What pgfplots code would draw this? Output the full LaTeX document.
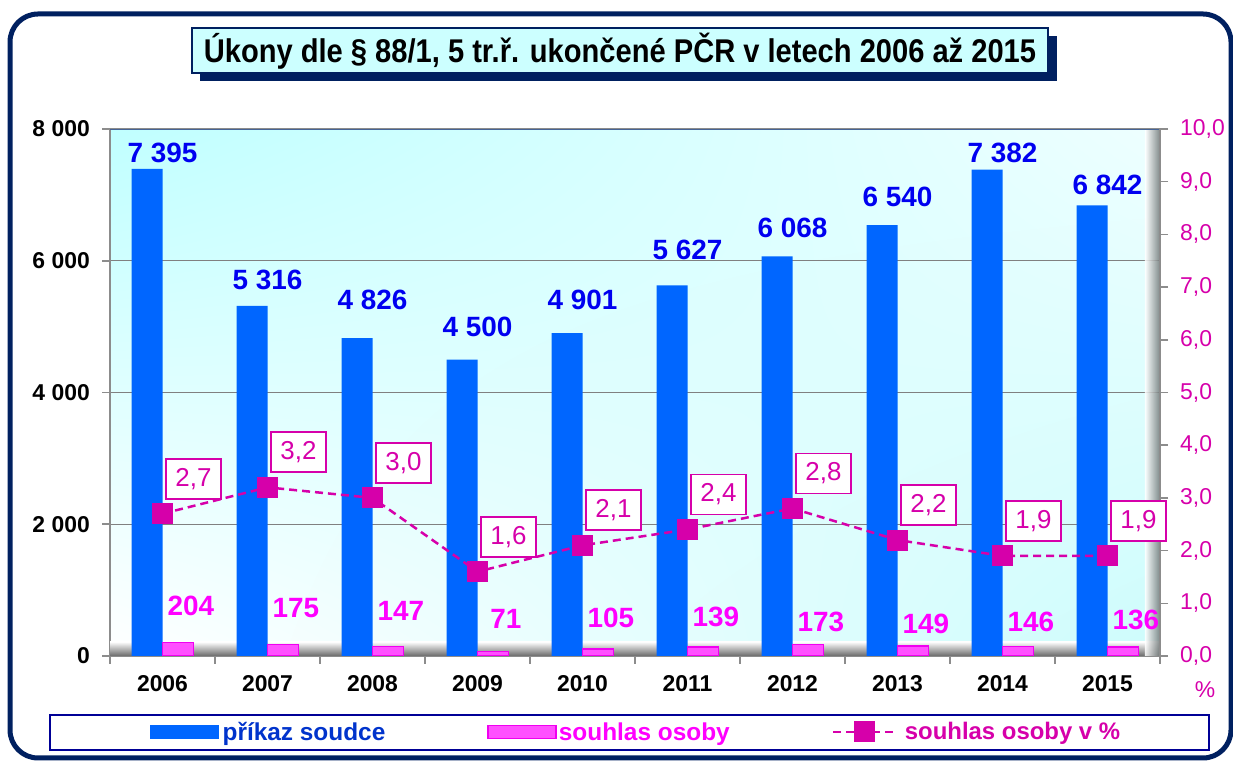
\documentclass[border=0pt]{standalone}
\usepackage{pgfplots}
\pgfplotsset{compat=1.18}
\usepackage{pgfplotstable}
\usetikzlibrary{shadings}
\usepackage{graphicx}
\usepackage{fontspec}
\setmainfont{Liberation Sans}
\definecolor{navy}{RGB}{0,32,96}
\definecolor{legnavy}{RGB}{0,0,150}
\definecolor{barblue}{RGB}{0,102,255}
\definecolor{labblue}{RGB}{0,0,240}
\definecolor{barmag}{RGB}{255,80,255}
\definecolor{magedge}{RGB}{240,0,240}
\definecolor{labmag}{RGB}{255,0,255}
\definecolor{pctmag}{RGB}{214,0,170}
\definecolor{bgcyan}{RGB}{192,255,255}
\definecolor{bgtr}{RGB}{238,255,255}
\definecolor{bgbr}{RGB}{205,252,252}
\definecolor{titlecyan}{RGB}{204,255,255}
\definecolor{axgray}{RGB}{140,140,140}
\definecolor{gridgray}{RGB}{128,128,128}
\definecolor{legblue}{RGB}{0,51,204}
\definecolor{floorgray}{RGB}{105,105,105}
\definecolor{wallgray}{RGB}{110,118,118}
\definecolor{topline}{RGB}{70,100,150}
\pgfplotsset{lineleg/.style={legend image code/.code={\draw[mark repeat=2, mark phase=2, ##1] plot coordinates {(0bp,0bp) (31bp,0bp) (62bp,0bp)};}}}

\pgfplotstableread{
x y
0 7395
1 5316
2 4826
3 4500
4 4901
5 5627
6 6068
7 6540
8 7382
9 6842
}\bluedata
\pgfplotstableread{
x y
0 204
1 175
2 147
3 71
4 105
5 139
6 173
7 149
8 146
9 136
}\magdata
\pgfplotstableread{
x y
0 2.7
1 3.2
2 3.0
3 1.6
4 2.1
5 2.4
6 2.8
7 2.2
8 1.9
9 1.9
}\pctdata
\pgfplotstableread{
x y v
0 7636 7395
1 5708 5316
2 5404 4826
3 4994 4500
4 5404 4901
5 6163 5627
6 6497 6068
7 6968 6540
8 7636 7382
9 7150 6842
}\bluelab
\pgfplotstableread{
x y v
0.27 759 204
1.27 729 175
2.27 683 147
3.27 562 71
4.27 577 105
5.27 592 139
6.27 516 173
7.27 486 149
8.27 516 146
9.27 546 136
}\maglab

\begin{document}
\begin{tikzpicture}
% outer frame
\draw[navy, line width=5bp, rounded corners=28bp] (10bp,4bp) rectangle (1231bp,748bp);
% title
\fill[navy] (200bp,681bp) rectangle (1057bp,726bp);
\draw[navy, line width=2.5bp, fill=titlecyan] (192bp,689bp) rectangle (1048bp,734bp);
\node at (620bp,711bp) {\scalebox{0.885}[1]{\fontsize{33}{36}\selectfont\bfseries Úkony dle § 88/1, 5 tr.ř. ukončené PČR v letech 2006 až 2015}};
% legend frame
\draw[legnavy, line width=2bp] (50bp,12bp) rectangle (1209bp,47bp);

\begin{axis}[
  at={(110bp,106bp)}, anchor=south west,
  width=1050bp, height=527bp, scale only axis,
  xmin=-0.5, xmax=9.5, ymin=0, ymax=8000,
  axis background/.style={shade, upper left=bgcyan, upper right=bgtr, lower left=white, lower right=bgbr},
  axis line style={draw=axgray, line width=1.5bp},
  tick style={draw=axgray, line width=1.5bp},
  tick align=outside, major tick length=8bp,
  xtick={-0.5,0.5,...,9.5}, xticklabels={},
  extra x ticks={0,1,2,3,4,5,6,7,8,9},
  extra x tick labels={2006,2007,2008,2009,2010,2011,2012,2013,2014,2015},
  extra x tick style={tick style={draw=none}},
  xticklabel style={font=\fontsize{23}{25}\selectfont\bfseries, anchor=north, inner sep=0pt, yshift=-11bp},
  xtick pos=bottom, ytick pos=left,
  ytick={0,2000,4000,6000,8000},
  yticklabel style={font=\fontsize{23}{25}\selectfont\bfseries, anchor=east, inner sep=0pt, xshift=-12bp},
  ymajorgrids, grid style={draw=gridgray, line width=1.3bp},
  /pgf/number format/.cd, fixed, 1000 sep={\ }, assume math mode=true,
]
\shade[top color=white, bottom color=floorgray] (rel axis cs:0,0) rectangle (rel axis cs:1,0.027);
\shade[left color=white, right color=wallgray, opacity=0.85] (rel axis cs:0.9857,0) rectangle (rel axis cs:1,1);
\draw[topline, line width=2bp] (rel axis cs:0,1) -- (rel axis cs:1,1);
\addplot[ybar, bar width=31bp, bar shift=-15.5bp, fill=barblue, draw=none] table[x=x,y=y] {\bluedata};
\addplot[ybar, bar width=31bp, bar shift=15.5bp, fill=barmag, draw=magedge, line width=1.5bp] table[x=x,y=y] {\magdata};
\addplot[draw=none, nodes near coords, point meta=explicit,
  every node near coord/.style={anchor=center, inner sep=0pt, text=labblue, font=\fontsize{28}{30}\selectfont\bfseries}]
  table[x=x,y=y,meta=v] {\bluelab};
\addplot[draw=none, nodes near coords, point meta=explicit,
  every node near coord/.style={anchor=center, inner sep=0pt, text=labmag, font=\fontsize{28}{30}\selectfont\bfseries}]
  table[x=x,y=y,meta=v] {\maglab};
\end{axis}

\begin{axis}[
  at={(110bp,106bp)}, anchor=south west,
  width=1050bp, height=527bp, scale only axis, clip=false,
  xmin=-0.5, xmax=9.5, ymin=0, ymax=10,
  axis x line=none, axis y line*=right,
  y axis line style={draw=axgray, line width=1.5bp},
  tick style={draw=axgray, line width=1.5bp},
  tick align=outside, major tick length=8bp,
  ytick={0,1,...,10},
  yticklabel style={font=\fontsize{23}{25}\selectfont, text=pctmag, anchor=west, inner sep=0pt, xshift=12bp},
  legend columns=3,
  legend style={at={(axis description cs:0.0381,-0.1442)}, anchor=west, draw=none, fill=none, inner sep=0pt,
    font=\fontsize{24.5}{27}\selectfont\bfseries,
    /tikz/every even column/.append style={column sep=100bp},
    nodes={inner sep=2bp}},
  /pgf/number format/.cd, fixed, fixed zerofill, precision=1, use comma, assume math mode=true,
]
\addlegendimage{legend image code/.code={\fill[barblue] (0bp,-6.5bp) rectangle (68bp,6.5bp);}}
\addlegendentry{\textcolor{legblue}{\kern2bp příkaz soudce}}
\addlegendimage{legend image code/.code={\draw[fill=barmag, draw=magedge, line width=1.5bp] (0bp,-6.5bp) rectangle (68bp,6.5bp);}}
\addlegendentry{\textcolor{labmag}{souhlas osoby}}
\addplot[pctmag, line width=2.5bp, dash pattern=on 8bp off 5bp, mark=square*, mark size=10bp,
  mark options={solid, fill=pctmag, draw=pctmag, line width=0pt},
  lineleg,
  nodes near coords,
  every node near coord/.style={solid, anchor=center, draw=pctmag, fill=white, line width=1.8bp, text=pctmag,
    font=\fontsize{26}{28}\selectfont, minimum width=55bp, minimum height=40bp, inner sep=0pt,
    xshift=31bp, yshift=35bp}]
  table[x=x,y=y] {\pctdata};
\addlegendentry{\textcolor{pctmag}{\fontsize{24}{27}\selectfont\ souhlas osoby v \%}}
\node[text=pctmag, font=\fontsize{23}{25}\selectfont] at ([xshift=45bp, yshift=-34bp]rel axis cs:1,0) {\%};
\end{axis}
\pgfresetboundingbox
\path (0,0) rectangle (1233bp,762bp);
\end{tikzpicture}
\end{document}
